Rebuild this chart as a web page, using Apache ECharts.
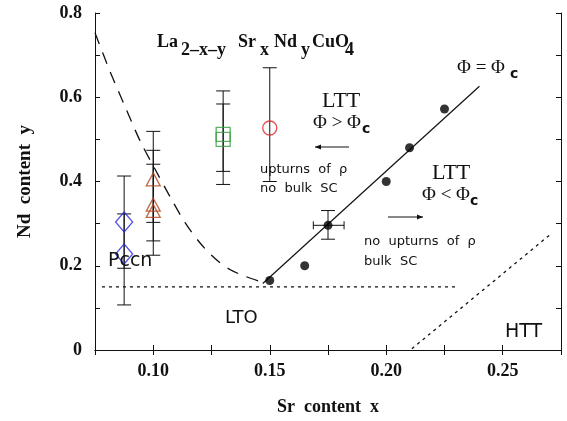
<!DOCTYPE html>
<html><head><meta charset="utf-8">
<script src="https://cdn.jsdelivr.net/npm/echarts@6/dist/echarts.min.js"></script>
<style>html,body{margin:0;padding:0;background:#fff}#c{width:567px;height:421px}</style>
</head><body><div id="c"></div>
<script>
// ---- data ----
var pccnX = 0.0875;
var pccnY = [0.304, 0.228];
var pccnErr = [[0.194, 0.413], [0.107, 0.323]];

var triX = 0.10;
var triY = [0.405, 0.345, 0.330];
var triErr = [[0.303, 0.519], [0.259, 0.474], [0.225, 0.441]];

var sqX = 0.13;
var sqY = [0.512, 0.500];
var sqErr = [[0.424, 0.615], [0.393, 0.584]];

var circX = 0.15;
var circY = [0.527];
var circErr = [[0.400, 0.670]];

var dotX = [0.150, 0.165, 0.175, 0.200, 0.210, 0.225];
var dotY = [0.165, 0.200, 0.296, 0.400, 0.480, 0.572];
var dotXErr = [[0.175, 0.296, 0.1687, 0.1819]];
var dotYErr = [[0.175, 0.263, 0.331]];

var dashX = [0.075, 0.0814, 0.0879, 0.0943, 0.1008, 0.1072, 0.1136, 0.1201, 0.1265, 0.1329, 0.1394, 0.1467];
var dashY = [0.753, 0.662, 0.578, 0.497, 0.429, 0.364, 0.303, 0.254, 0.217, 0.191, 0.175, 0.161];

var phiLineX = [0.147, 0.240];
var phiLineY = [0.158, 0.626];

var ltoX = [0.078, 0.230];
var ltoY = [0.15, 0.15];

var httX = [0.211, 0.271];
var httY = [0.003, 0.277];

var xTicks = [0.10, 0.15, 0.20, 0.25];
var yTicks = [0, 0.2, 0.4, 0.6, 0.8];

function zip(a, b) { return a.map(function (v, i) { return [v, b[i]]; }); }

var SERIF = 'Liberation Serif';
var SANS = 'DejaVu Sans';

function vErr(x, errs) { return errs.map(function (e) { return [x, e[0], e[1]]; }); }

function vErrRender(params, api) {
  var x = api.value(0), lo = api.value(1), hi = api.value(2);
  var p1 = api.coord([x, lo]), p2 = api.coord([x, hi]);
  var w = 7;
  var st = { stroke: '#111', lineWidth: 1 };
  return { type: 'group', children: [
    { type: 'line', shape: { x1: p1[0], y1: p1[1], x2: p2[0], y2: p2[1] }, style: st },
    { type: 'line', shape: { x1: p1[0] - w, y1: p1[1], x2: p1[0] + w, y2: p1[1] }, style: st },
    { type: 'line', shape: { x1: p2[0] - w, y1: p2[1], x2: p2[0] + w, y2: p2[1] }, style: st }
  ]};
}
function hErrRender(params, api) {
  var y = api.value(1), lo = api.value(2), hi = api.value(3);
  var p1 = api.coord([lo, y]), p2 = api.coord([hi, y]);
  var w = 4;
  var st = { stroke: '#111', lineWidth: 1 };
  return { type: 'group', children: [
    { type: 'line', shape: { x1: p1[0], y1: p1[1], x2: p2[0], y2: p2[1] }, style: st },
    { type: 'line', shape: { x1: p1[0], y1: p1[1] - w, x2: p1[0], y2: p1[1] + w }, style: st },
    { type: 'line', shape: { x1: p2[0], y1: p2[1] - w, x2: p2[0], y2: p2[1] + w }, style: st }
  ]};
}

var chart = echarts.init(document.getElementById('c'), null, { renderer: 'canvas' });

function isTick(v, list) { return list.some(function (t) { return Math.abs(t - v) < 1e-6; }); }

var axisCommon = {
  axisLine: { show: true, lineStyle: { color: '#111', width: 1 } },
  axisTick: { show: true, inside: true, length: 5, lineStyle: { color: '#111' } },
  splitLine: { show: false }
};

// y given as text baseline
function T(text, x, y, family, size, weight, align) {
  return { type: 'text', x: x, y: y - 0.78 * size, z: 100,
    style: { text: text, fontFamily: family, fontSize: size, fontWeight: weight || 'normal',
      fill: '#111', align: align || 'left', verticalAlign: 'top' } };
}
function arrow(x1, x2, y) {
  var dir = x2 > x1 ? 1 : -1;
  return { type: 'group', z: 100, children: [
    { type: 'line', shape: { x1: x1, y1: y, x2: x2, y2: y }, style: { stroke: '#111', lineWidth: 1 } },
    { type: 'polygon', shape: { points: [[x2, y], [x2 - dir * 6, y - 2.5], [x2 - dir * 6, y + 2.5]] }, style: { fill: '#111' } }
  ]};
}

var option = {
  backgroundColor: '#fff',
  animation: false,
  grid: { left: 95, top: 13, right: 6, bottom: 65 },
  xAxis: [
    Object.assign({ type: 'value', min: 0.075, max: 0.275, interval: 0.025, position: 'bottom',
      name: 'Sr  content  x', nameLocation: 'middle', nameGap: 48,
      nameTextStyle: { fontFamily: SERIF, fontWeight: 'bold', fontSize: 18, color: '#111' },
      axisLabel: { margin: 12, fontFamily: SERIF, fontWeight: 'bold', fontSize: 18, color: '#111',
        formatter: function (v) { return isTick(v, xTicks) ? v.toFixed(2) : ''; } } }, axisCommon),
    Object.assign({ type: 'value', min: 0.075, max: 0.275, interval: 0.025, position: 'top',
      axisLabel: { show: false } }, axisCommon)
  ],
  yAxis: [
    Object.assign({ type: 'value', min: 0, max: 0.8, interval: 0.1, position: 'left',
      name: 'Nd  content  y', nameLocation: 'middle', nameGap: 60,
      nameTextStyle: { fontFamily: SERIF, fontWeight: 'bold', fontSize: 19, color: '#111' },
      axisLabel: { margin: 13, fontFamily: SERIF, fontWeight: 'bold', fontSize: 18, color: '#111',
        formatter: function (v) { return isTick(v, yTicks) ? (v === 0 ? '0' : v.toFixed(1)) : ''; } } }, axisCommon),
    Object.assign({ type: 'value', min: 0, max: 0.8, interval: 0.1, position: 'right',
      axisLabel: { show: false } }, axisCommon)
  ],
  series: [
    { type: 'line', data: zip(dashX, dashY), smooth: 0.3, showSymbol: false, symbol: 'none',
      lineStyle: { color: '#111', width: 1.3, type: [12, 9] }, z: 2 },
    { type: 'line', data: zip(phiLineX, phiLineY), symbol: 'none',
      lineStyle: { color: '#111', width: 1.2 }, z: 2 },
    { type: 'line', data: zip(ltoX, ltoY), symbol: 'none',
      lineStyle: { color: '#111', width: 1.3, type: [3, 4] }, z: 2 },
    { type: 'line', data: zip(httX, httY), symbol: 'none',
      lineStyle: { color: '#111', width: 1.3, type: [3, 4] }, z: 2 },
    { type: 'custom', renderItem: vErrRender, data: vErr(pccnX, pccnErr), encode: { x: 0, y: [1, 2] }, z: 3 },
    { type: 'custom', renderItem: vErrRender, data: vErr(triX, triErr), encode: { x: 0, y: [1, 2] }, z: 3 },
    { type: 'custom', renderItem: vErrRender, data: vErr(sqX, sqErr), encode: { x: 0, y: [1, 2] }, z: 3 },
    { type: 'custom', renderItem: vErrRender, data: vErr(circX, circErr), encode: { x: 0, y: [1, 2] }, z: 3 },
    { type: 'custom', renderItem: vErrRender, data: dotYErr, encode: { x: 0, y: [1, 2] }, z: 3 },
    { type: 'custom', renderItem: hErrRender, data: dotXErr, encode: { x: [2, 3], y: 1 }, z: 3 },
    { type: 'scatter', data: pccnY.map(function (y) { return [pccnX, y]; }), symbol: 'diamond', symbolSize: [17, 20],
      itemStyle: { color: 'rgba(0,0,0,0)', borderColor: '#2323d8', borderWidth: 1.3 }, z: 5 },
    { type: 'scatter', data: triY.map(function (y) { return [triX, y]; }), symbol: 'triangle', symbolSize: [14, 13],
      itemStyle: { color: 'rgba(0,0,0,0)', borderColor: '#b0451c', borderWidth: 1.3 }, z: 5 },
    { type: 'scatter', data: sqY.map(function (y) { return [sqX, y]; }), symbol: 'rect', symbolSize: 14,
      itemStyle: { color: 'rgba(0,0,0,0)', borderColor: '#35a040', borderWidth: 1.3 }, z: 5 },
    { type: 'scatter', data: circY.map(function (y) { return [circX, y]; }), symbol: 'circle', symbolSize: 14,
      itemStyle: { color: 'rgba(0,0,0,0)', borderColor: '#e02424', borderWidth: 1.3 }, z: 5 },
    { type: 'scatter', data: zip(dotX, dotY), symbol: 'circle', symbolSize: 9,
      itemStyle: { color: '#000' }, z: 6 }
  ],
  graphic: [
    T('La', 157, 47, SERIF, 18, 'bold'),
    T('2–x–y', 181, 55, SERIF, 18, 'bold'),
    T('Sr', 238, 47, SERIF, 18, 'bold'),
    T('x', 260, 55, SERIF, 18, 'bold'),
    T('Nd', 274, 47, SERIF, 18, 'bold'),
    T('y', 301, 55, SERIF, 18, 'bold'),
    T('CuO', 312, 47, SERIF, 18, 'bold'),
    T('4', 345, 55, SERIF, 18, 'bold'),
    T('Φ = Φ', 457, 73, SERIF, 19, 'normal'),
    T('c', 510, 78, SANS, 14, 'bold'),
    T('LTT', 322, 107, SERIF, 22, 'normal'),
    T('Φ > Φ', 313, 128, SERIF, 19, 'normal'),
    T('c', 362, 133, SANS, 14, 'bold'),
    arrow(349, 315, 147),
    T('upturns  of  ρ', 260, 173, SANS, 13, 'normal'),
    T('no  bulk  SC', 260, 192, SANS, 13, 'normal'),
    T('LTT', 432, 179, SERIF, 22, 'normal'),
    T('Φ < Φ', 422, 200, SERIF, 19, 'normal'),
    T('c', 470, 205, SANS, 14, 'bold'),
    arrow(388, 423, 217),
    T('no  upturns  of  ρ', 364, 245, SANS, 13, 'normal'),
    T('bulk  SC', 364, 265, SANS, 13, 'normal'),
    T('Pccn', 108, 266, SANS, 19, 'normal'),
    T('LTO', 225, 323, SANS, 18, 'normal'),
    T('HTT', 505, 337, SANS, 19, 'normal')
  ]
};
chart.setOption(option);
</script></body></html>
